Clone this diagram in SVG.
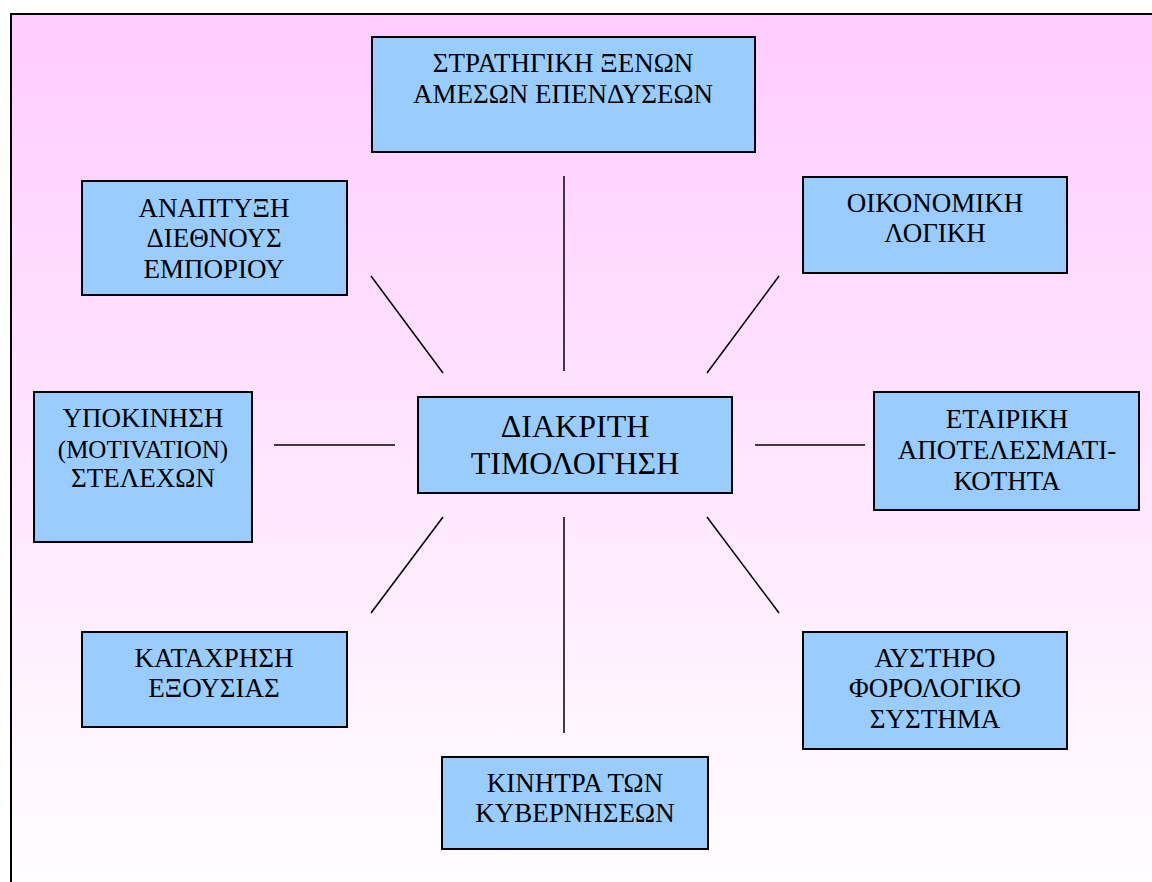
<svg xmlns="http://www.w3.org/2000/svg" width="1152" height="882" viewBox="0 0 1152 882">
<defs>
<linearGradient id="bg" x1="0" y1="0" x2="0" y2="1">
<stop offset="0" stop-color="#FFCCFF"/>
<stop offset="1" stop-color="#FFFFFF"/>
</linearGradient>
</defs>
<style>
.box{fill:#99CCFF;stroke:#000;stroke-width:2}
.t{font-family:"Liberation Serif","Times New Roman",serif;font-size:27px;fill:#000;text-anchor:middle}
.c{font-size:32px}
.lat{font-size:25px}
.ln{stroke:#000;stroke-width:1.5;fill:none}
</style>
<rect x="11" y="14" width="1160" height="890" fill="url(#bg)" stroke="#000" stroke-width="2"/>
<g id="connectors">
<line class="ln" x1="564" y1="176" x2="564" y2="371"/>
<line class="ln" x1="564" y1="517" x2="564" y2="733"/>
<line class="ln" x1="274" y1="445" x2="395" y2="445"/>
<line class="ln" x1="755" y1="445" x2="865" y2="445"/>
<line class="ln" x1="371" y1="276" x2="443" y2="373"/>
<line class="ln" x1="779" y1="276" x2="707" y2="373"/>
<line class="ln" x1="443" y1="517" x2="371" y2="613"/>
<line class="ln" x1="707" y1="517" x2="779" y2="613"/>
</g>
<g id="n-center">
<rect class="box" x="418" y="397" width="314" height="96"/>
<text class="t c" x="575" y="437">ΔΙΑΚΡΙΤΗ</text>
<text class="t c" x="575" y="474">ΤΙΜΟΛΟΓΗΣΗ</text>
</g>
<g id="n-strategy">
<rect class="box" x="372" y="37" width="383" height="115"/>
<text class="t" x="563" y="72">ΣΤΡΑΤΗΓΙΚΗ ΞΕΝΩΝ</text>
<text class="t" x="563" y="103">ΑΜΕΣΩΝ ΕΠΕΝΔΥΣΕΩΝ</text>
</g>
<g id="n-trade">
<rect class="box" x="82" y="181" width="265" height="114"/>
<text class="t" x="214" y="217">ΑΝΑΠΤΥΞΗ</text>
<text class="t" x="214" y="247">ΔΙΕΘΝΟΥΣ</text>
<text class="t" x="214" y="278">ΕΜΠΟΡΙΟΥ</text>
</g>
<g id="n-economic">
<rect class="box" x="803" y="177" width="264" height="96"/>
<text class="t" x="935" y="212">ΟΙΚΟΝΟΜΙΚΗ</text>
<text class="t" x="935" y="242">ΛΟΓΙΚΗ</text>
</g>
<g id="n-motivation">
<rect class="box" x="34" y="392" width="218" height="150"/>
<text class="t" x="143" y="427">ΥΠΟΚΙΝΗΣΗ</text>
<text class="t lat" x="143" y="458">(MOTIVATION)</text>
<text class="t" x="143" y="487">ΣΤΕΛΕΧΩΝ</text>
</g>
<g id="n-efficiency">
<rect class="box" x="874" y="392" width="265" height="118"/>
<text class="t" x="1007" y="428">ΕΤΑΙΡΙΚΗ</text>
<text class="t" x="1007" y="459">ΑΠΟΤΕΛΕΣΜΑΤΙ-</text>
<text class="t" x="1007" y="490">ΚΟΤΗΤΑ</text>
</g>
<g id="n-abuse">
<rect class="box" x="82" y="632" width="265" height="95"/>
<text class="t" x="214" y="667">ΚΑΤΑΧΡΗΣΗ</text>
<text class="t" x="214" y="697">ΕΞΟΥΣΙΑΣ</text>
</g>
<g id="n-tax">
<rect class="box" x="803" y="632" width="264" height="117"/>
<text class="t" x="935" y="667">ΑΥΣΤΗΡΟ</text>
<text class="t" x="935" y="697">ΦΟΡΟΛΟΓΙΚΟ</text>
<text class="t" x="935" y="728">ΣΥΣΤΗΜΑ</text>
</g>
<g id="n-incentives">
<rect class="box" x="442" y="757" width="266" height="92"/>
<text class="t" x="575" y="792">ΚΙΝΗΤΡΑ ΤΩΝ</text>
<text class="t" x="575" y="822">ΚΥΒΕΡΝΗΣΕΩΝ</text>
</g>
</svg>
